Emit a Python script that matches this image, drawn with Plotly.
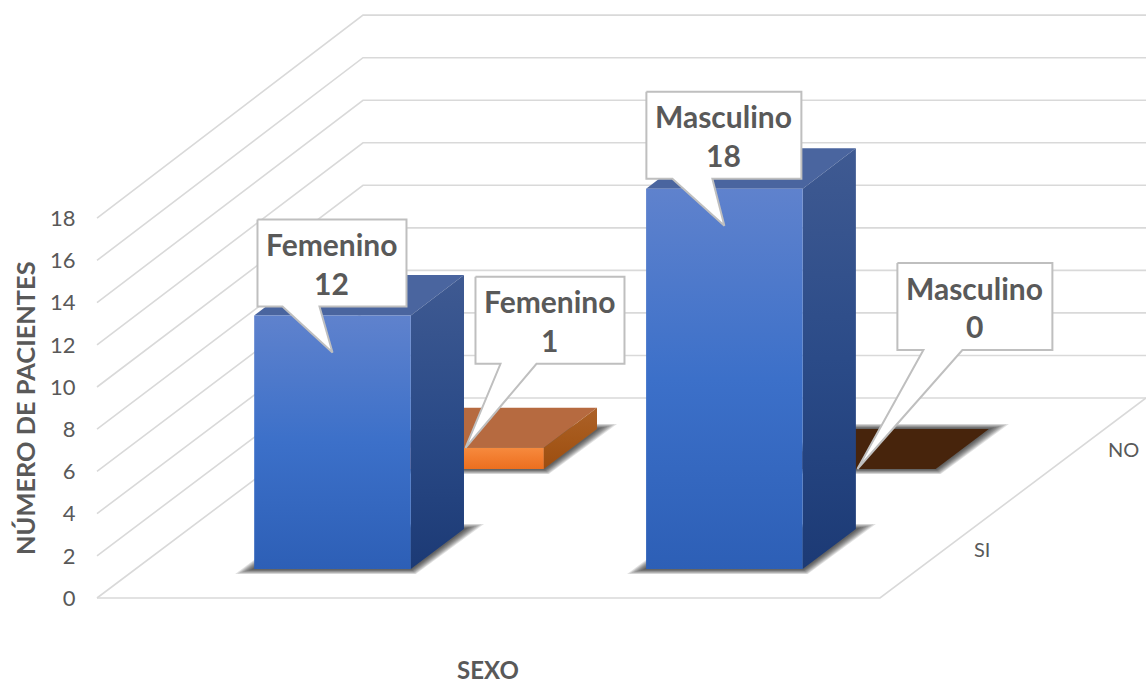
import plotly.graph_objects as go

# ---- data ----
categories = ["Femenino", "Masculino"]
series_names = ["SI", "NO"]
values_si = [12, 18]
values_no = [1, 0]
value_ticks = [0, 2, 4, 6, 8, 10, 12, 14, 16, 18]
y_title = "NÚMERO DE PACIENTES"
x_title = "SEXO"

# ---- oblique projection (layout only) ----
FX, FW = 97, 783      # front floor edge, px
DX, DY = 266, 200     # depth vector, px
UNIT = 21.1           # px per value at the front wall
FLOOR_PY = 598
CAT_C = [0.2515, 0.752]
ROW_C = [0.245, 0.745]
HW, HD = 0.1, 0.1
MARGIN_L = 90
PLOT_W = 1146 - MARGIN_L

def proj(u, d, v):
    px = FX + FW * u + DX * d
    y = v * (1 + 0.008 * d) + DY * d / UNIT
    return px, y

def py2v(py):
    return (FLOOR_PY - py) / UNIT

FONT = "Lato, Carlito, Calibri, sans-serif"
TXT = "#595959"
GRID = "#d9d9d9"
fig = go.Figure()

def poly(pts, color=None, grad=None, opacity=1.0):
    xs = [p[0] for p in pts] + [pts[0][0]]
    ys = [p[1] for p in pts] + [pts[0][1]]
    kw = dict(x=xs, y=ys, mode="lines", fill="toself", line=dict(width=0),
              hoverinfo="skip", showlegend=False, opacity=opacity)
    if grad:
        kw["fillgradient"] = dict(type="vertical", start=max(ys), stop=min(ys),
                                  colorscale=[[0, grad[0]], [0.5, grad[1]], [1, grad[2]]])
    else:
        kw["fillcolor"] = color
    fig.add_trace(go.Scatter(**kw))

def line(pts, color=GRID, width=1.6):
    fig.add_trace(go.Scatter(x=[p[0] for p in pts], y=[p[1] for p in pts], mode="lines",
                             line=dict(color=color, width=width), hoverinfo="skip", showlegend=False))

# walls and floor
for v in value_ticks:
    line([proj(0, 0, v), proj(0, 1, v), proj(1, 1, v)])
line([proj(0, 0, 0), proj(1, 0, 0), proj(1, 1, 0)])

STY = {
    0: dict(front=("#5f82cd", "#3c70c9", "#2d5fb6"), side=("#3f5a92", "#2b4b88", "#1c3a75"), top="#4a659f"),
    1: dict(front=("#f68a3e", "#f27c2e", "#ec6f1f"), side=("#ac6128", "#a5581a", "#9c4d10"), top="#b66a40"),
}
ZERO = "#47240c"
SHADOW_STEPS = [1.0, 0.88, 0.76, 0.64, 0.52, 0.4, 0.28, 0.16]

def draw_bar(i, j, v):
    u0, u1 = CAT_C[i] - HW, CAT_C[i] + HW
    d0, d1 = ROW_C[j] - HD, ROW_C[j] + HD
    (ax, ay), (bx, by), (cx, cy), (dx_, dy_) = proj(u0, d0, 0), proj(u1, d0, 0), proj(u1, d1, 0), proj(u0, d1, 0)
    # soft contact shadow from stacked translucent footprints
    for s in SHADOW_STEPS:
        pad = 5 * s / UNIT
        poly([(ax - 19 * s, ay - pad), (bx + 5 * s, by - pad),
              (cx + 20 * s, cy + pad), (dx_ - 5 * s, dy_ + pad)],
             color="rgb(20,20,20)", opacity=0.12)
    if v == 0:
        poly([(ax, ay), (bx, by), (cx, cy), (dx_, dy_)], color=ZERO)
        return
    st = STY[j]
    poly([proj(u0, d0, v), proj(u1, d0, v), proj(u1, d1, v), proj(u0, d1, v)], color=st["top"])
    poly([proj(u1, d0, 0), proj(u1, d1, 0), proj(u1, d1, v), proj(u1, d0, v)], grad=st["side"])
    poly([proj(u0, d0, 0), proj(u1, d0, 0), proj(u1, d0, v), proj(u0, d0, v)], grad=st["front"])

for i, v in enumerate(values_no):
    draw_bar(i, 1, v)
for i, v in enumerate(values_si):
    draw_bar(i, 0, v)

# callouts: box offsets from the tip, in px
CALL = {
    (0, 0): dict(drop=37, box=(-75, 74, -133, -46), tail=(-50, -13)),
    (1, 0): dict(drop=37, box=(-78, 77, -134, -47), tail=(-52, -12)),
    (0, 1): dict(drop=0, box=(10, 159, -171, -84), tail=(35, 71)),
    (1, 1): dict(drop=0, box=(40, 195, -206, -119), tail=(66, 105)),
}
annos = []
def callout(i, j, v):
    c = CALL[(i, j)]
    tx, ty = proj(CAT_C[i], ROW_C[j] - HD, v)
    py_tip = FLOOR_PY - ty * UNIT + c["drop"]
    l, r, t, b = c["box"]
    l, r = tx + l, tx + r
    t, b = py_tip + t, py_tip + b
    t1, t2 = tx + c["tail"][0], tx + c["tail"][1]
    pts = [(l, t), (r, t), (r, b), (t2, b), (tx, py_tip), (t1, b), (l, b), (l, t)]
    fig.add_trace(go.Scatter(x=[p[0] for p in pts], y=[py2v(p[1]) for p in pts], mode="lines",
                             fill="toself", fillcolor="white", line=dict(color="#bfbfbf", width=2),
                             hoverinfo="skip", showlegend=False))
    cx = (l + r) / 2
    for text, py in ((categories[i], t + 24.5), (str(v), t + 63)):
        annos.append(dict(x=cx, y=py2v(py), xref="x", yref="y", text=f"<b>{text}</b>", showarrow=False,
                          font=dict(family=FONT, size=30, color=TXT)))

for i, v in enumerate(values_si):
    callout(i, 0, v)
for i, v in enumerate(values_no):
    callout(i, 1, v)

# series (depth) labels beside the right floor edge
SERIES_DX = [37, 45]
for j, name in enumerate(series_names):
    px, y = proj(1, ROW_C[j], 0)
    annos.append(dict(x=px + SERIES_DX[j], y=y, xref="x", yref="y", text=name, showarrow=False,
                      font=dict(family=FONT, size=20, color=TXT)))

annos.append(dict(x=(25 - MARGIN_L) / PLOT_W, y=py2v(408), xref="paper", yref="y", xanchor="center",
                  yanchor="middle", text=f"<b>{y_title}</b>", textangle=-90, showarrow=False,
                  font=dict(family=FONT, size=25.4, color=TXT)))
annos.append(dict(x=488, y=py2v(669), xref="x", yref="y", text=f"<b>{x_title}</b>", showarrow=False,
                  font=dict(family=FONT, size=24, color=TXT)))

fig.update_layout(
    width=1146, height=683, margin=dict(l=MARGIN_L, r=0, t=0, b=0),
    paper_bgcolor="white", plot_bgcolor="white", showlegend=False, annotations=annos,
    xaxis=dict(range=[MARGIN_L, 1146], visible=False, fixedrange=True),
    yaxis=dict(range=[py2v(683), py2v(0)], tickmode="array", tickvals=value_ticks,
               ticktext=[str(t) for t in value_ticks], showgrid=False, zeroline=False, showline=False,
               ticks="outside", ticklen=9, tickcolor="rgba(255,255,255,0)", fixedrange=True,
               tickfont=dict(family=FONT, size=22, color=TXT)),
)
fig.write_html("out.html", config={"displayModeBar": False},
               post_script="document.body.style.margin='0';document.body.style.overflow='hidden';")
